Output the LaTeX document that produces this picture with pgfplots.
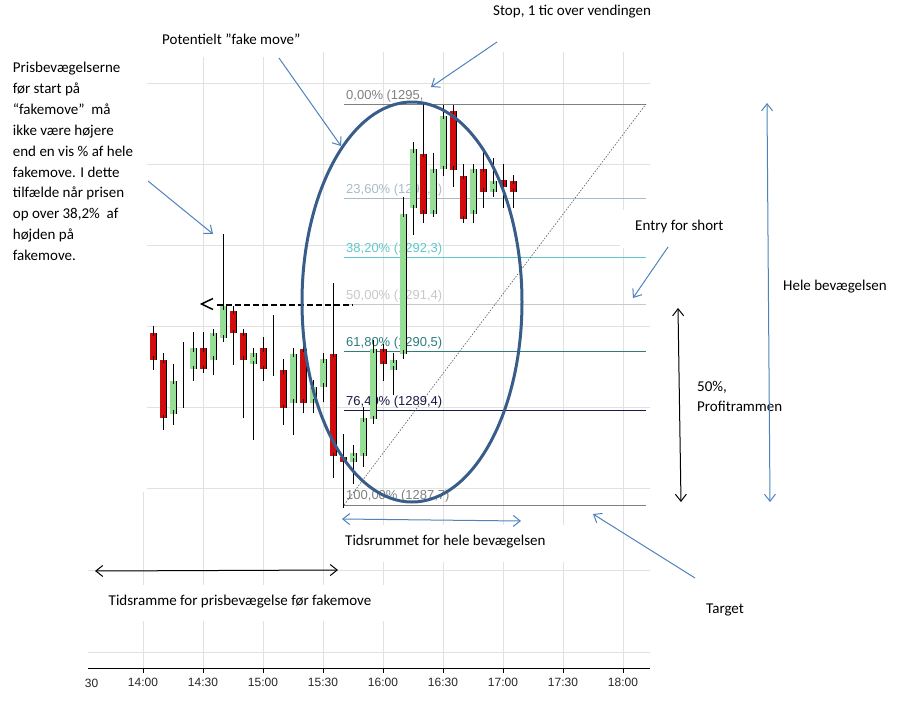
\documentclass[border=0pt]{standalone}
\usepackage{pgfplots}
\usepackage{pgfplotstable}
\pgfplotsset{compat=1.18}
\usetikzlibrary{arrows.meta}
\usepackage{fontspec}
\setmainfont{Carlito}
\newfontfamily\arialf{Liberation Sans}
\definecolor{cgreen}{RGB}{150,222,150}
\definecolor{cred}{RGB}{210,12,12}
\definecolor{gridc}{RGB}{225,225,225}
\definecolor{arrowblue}{RGB}{79,129,189}
\definecolor{ellblue}{RGB}{56,93,138}
\definecolor{fibA}{RGB}{128,128,128}
\definecolor{fibB}{RGB}{168,188,200}
\definecolor{fibC}{RGB}{95,200,200}
\definecolor{fibD}{RGB}{200,200,200}
\definecolor{fibE}{RGB}{45,125,125}
\definecolor{fibF}{RGB}{25,25,70}
\pgfplotstableread{
x low open close high
75 1289.16 1289.37 1289.97 1290.27
80 1289.47 1290.06 1290.06 1290.67
85 1289.96 1290.17 1290.55 1290.85
95 1290.06 1290.35 1290.84 1290.84
100 1290.75 1290.75 1291.33 1292.63
115 1288.88 1290.26 1290.46 1290.55
125 1290.05 1290.17 1290.17 1291.16
135 1288.97 1289.57 1290.46 1290.55
145 1289.37 1289.57 1289.85 1289.98
150 1289.57 1289.85 1290.35 1290.46
165 1288.09 1288.50 1288.67 1288.79
170 1288.39 1288.59 1289.28 1289.48
175 1289.17 1289.28 1290.55 1290.70
185 1289.70 1290.17 1290.35 1290.46
190 1290.35 1290.46 1293.01 1293.31
195 1292.62 1293.12 1294.19 1294.31
205 1293.01 1293.01 1293.82 1294.10
210 1293.69 1293.82 1294.80 1294.98
225 1292.83 1293.01 1293.82 1293.91
235 1293.31 1293.40 1293.61 1294.02
}\greenc
\pgfplotstableread{
x low open close high
65 1290.16 1290.84 1290.35 1290.96
70 1289.07 1290.35 1289.28 1290.46
90 1290.17 1290.55 1290.17 1290.85
105 1290.25 1291.25 1290.84 1291.33
110 1289.28 1290.84 1290.35 1290.84
120 1289.96 1290.55 1290.17 1290.75
130 1289.16 1290.17 1289.48 1290.36
140 1289.37 1290.55 1289.57 1290.55
155 1288.19 1290.46 1288.59 1291.74
160 1287.65 1288.59 1288.49 1288.99
180 1289.96 1290.55 1290.27 1290.64
200 1292.83 1294.10 1293.01 1295.00
215 1293.49 1294.89 1293.82 1294.98
220 1292.83 1293.71 1292.92 1293.91
230 1293.11 1293.82 1293.40 1294.19
240 1293.11 1293.61 1293.49 1293.91
245 1293.11 1293.61 1293.40 1293.71
}\redc
\tikzset{fiblab/.style={anchor=base west, inner sep=0pt, yshift=5pt, font=\arialf\fontsize{13}{15}\selectfont},
  ann/.style={anchor=base west, inner sep=0pt, font=\fontsize{15}{18}\selectfont},
  barb/.style={-{Straight Barb[length=7pt,width=11pt]}},
  dbarb/.style={{Straight Barb[length=7pt,width=11pt]}-{Straight Barb[length=7pt,width=11pt]}}}
\pgfplotsset{
  wick/.style={draw=none, mark=none, error bars/.cd, y dir=plus, y explicit, error bar style={draw=black, line width=0.9pt}, error mark=none},
  bodyout/.style={draw=none, mark=none, error bars/.cd, y dir=both, y explicit, error bar style={draw=black, line width=7pt}, error mark=none},
  bodyin/.style={draw=none, mark=none, error bars/.cd, y dir=both, y explicit, error bar style={draw=#1, line width=5.2pt}, error mark=-, error mark options={draw=black, line width=0.9pt, mark size=3.5pt}},
}
\begin{document}
\begin{tikzpicture}
\path[use as bounding box] (0,0) rectangle (898pt,-713pt);
\begin{axis}[
  at={(88pt,-668pt)}, anchor=south west,
  scale only axis, width=562pt, height=616pt,
  xmin=32.5, xmax=313.5, ymin=1284.732, ymax=1295.947,
  axis x line=bottom, axis y line=left,
  x axis line style={-, black, line width=0.9pt},
  y axis line style={draw=none},
  ytick style={draw=none},
  xtick={60,90,...,300},
  xticklabels={14:00,14:30,15:00,15:30,16:00,16:30,17:00,17:30,18:00},
  ytick={1285.024,1286.516,1288.009,1289.484,1290.958,1292.433,1293.908,1295.382},
  yticklabels={},
  grid=major, major grid style={draw=gridc, line width=0.9pt},
  tick align=outside, major tick length=5pt,
  xtick style={black, line width=0.8pt},
  xticklabel style={font=\arialf\fontsize{12}{14}\selectfont, text=black!85, inner sep=2pt, yshift=-3pt},
  /pgf/number format/assume math mode=true,
]
% Fibonacci levels
\addplot[fibA, line width=0.9pt] coordinates {(160.5,1295) (311.5,1295)};
\addplot[fibB, line width=0.9pt] coordinates {(160.5,1293.277) (311.5,1293.277)};
\addplot[fibC, line width=0.9pt] coordinates {(160.5,1292.211) (311.5,1292.211)};
\addplot[fibD, line width=0.9pt] coordinates {(160.5,1291.35) (311.5,1291.35)};
\addplot[fibE, line width=0.9pt] coordinates {(160.5,1290.489) (311.5,1290.489)};
\addplot[fibF, line width=0.9pt] coordinates {(160.5,1289.423) (311.5,1289.423)};
\addplot[fibA, line width=0.9pt] coordinates {(160.5,1287.7) (311.5,1287.7)};
\node[fiblab, text=fibA] at (axis cs:161.5,1295) {0,00\% (1295,};
\node[fiblab, text=fibB] at (axis cs:161.5,1293.277) {23,60\% (1293,4)};
\node[fiblab, text=fibC] at (axis cs:161.5,1292.211) {38,20\% (1292,3)};
\node[fiblab, text=fibD] at (axis cs:161.5,1291.35) {50,00\% (1291,4)};
\node[fiblab, text=fibE] at (axis cs:161.5,1290.489) {61,80\% (1290,5)};
\node[fiblab, text=fibF] at (axis cs:161.5,1289.423) {76,40\% (1289,4)};
\node[fiblab, text=fibA] at (axis cs:161.5,1287.7) {100,00\% (1287,7)};
\addplot[black!65, line width=0.6pt, dash pattern=on 1.5pt off 1.5pt] coordinates {(160.5,1287.7) (311.5,1295)};
% dashed reference line
\addplot[black, line width=1.8pt, dash pattern=on 6pt off 3pt] coordinates {(97,1291.34) (165,1291.34)};
% candles: wicks, then bodies
\addplot[wick] table[x=x, y=low, y error expr=\thisrow{high}-\thisrow{low}] {\greenc};
\addplot[wick] table[x=x, y=low, y error expr=\thisrow{high}-\thisrow{low}] {\redc};
\addplot[bodyout] table[x=x, y expr=(\thisrow{open}+\thisrow{close})/2, y error expr=abs(\thisrow{close}-\thisrow{open})/2] {\greenc};
\addplot[bodyout] table[x=x, y expr=(\thisrow{open}+\thisrow{close})/2, y error expr=abs(\thisrow{close}-\thisrow{open})/2] {\redc};
\addplot[bodyin=cgreen] table[x=x, y expr=(\thisrow{open}+\thisrow{close})/2, y error expr=abs(\thisrow{close}-\thisrow{open})/2] {\greenc};
\addplot[bodyin=cred] table[x=x, y expr=(\thisrow{open}+\thisrow{close})/2, y error expr=abs(\thisrow{close}-\thisrow{open})/2] {\redc};
\end{axis}
\begin{scope}[x=1pt,y=-1pt]
% white text boxes hiding the grid
\fill[white] (0,0) rectangle (147,492);
\fill[white] (155,24) rectangle (312,57);
\fill[white] (620,210) rectangle (760,248);
\fill[white] (333,525) rectangle (578,562);
\fill[white] (95,585) rectangle (392,621);
% clipped first tick label
\node[anchor=base east, inner sep=0pt, font=\arialf\fontsize{12}{14}\selectfont, text=black!85] at (98.5,687) {30};
% left paragraph
\node[ann] at (12.7,72.5) {Prisbevægelserne};
\node[ann] at (12.7,93.4) {før start på};
\node[ann] at (12.7,114.3) {“fakemove”~ må};
\node[ann] at (12.7,135.2) {ikke være højere};
\node[ann] at (12.7,156.1) {end en vis \% af hele};
\node[ann] at (12.7,177.0) {fakemove. I dette};
\node[ann] at (12.7,197.9) {tilfælde når prisen};
\node[ann] at (12.7,218.8) {op over 38,2\%~ af};
\node[ann] at (12.7,239.7) {højden på};
\node[ann] at (12.7,260.6) {fakemove.};
% other texts
\node[ann] at (162,44) {Potentielt ”fake move”};
\node[ann] at (493,15) {Stop, 1 tic over vendingen};
\node[ann] at (635,230) {Entry for short};
\node[ann] at (783,290) {Hele bevægelsen};
\node[ann] at (697,391) {50\%,};
\node[ann] at (697,411) {Profitrammen};
\node[ann] at (345,545) {Tidsrummet for hele bevægelsen};
\node[ann] at (108.5,605) {Tidsramme for prisbevægelse før fakemove};
\node[ann] at (706,613) {Target};
% arrows
\draw[arrowblue, line width=1pt, barb] (279,58) -- (341,146);
\draw[arrowblue, line width=1pt, barb] (148,181) -- (213,234);
\draw[arrowblue, line width=1pt, barb] (497,42) -- (431,87);
\draw[arrowblue, line width=1pt, barb] (668,247) -- (633,298);
\draw[arrowblue, line width=1pt, barb] (695,578) -- (593,514);
\draw[arrowblue, line width=1pt, dbarb] (767,103) -- (770,502);
\draw[black, line width=1pt, dbarb] (678,308) -- (681,502);
\draw[arrowblue, line width=1pt, dbarb] (342,519) -- (521,521);
\draw[black, line width=1pt, dbarb] (95,571) -- (338,570);
% "<" marker
\draw[black, line width=1.5pt] (213,298.5) -- (201.5,304) -- (213,309.5);
% ellipse
\draw[ellblue, line width=3pt] (412,302) ellipse [x radius=110, y radius=200];
\end{scope}
\end{tikzpicture}
\end{document}
